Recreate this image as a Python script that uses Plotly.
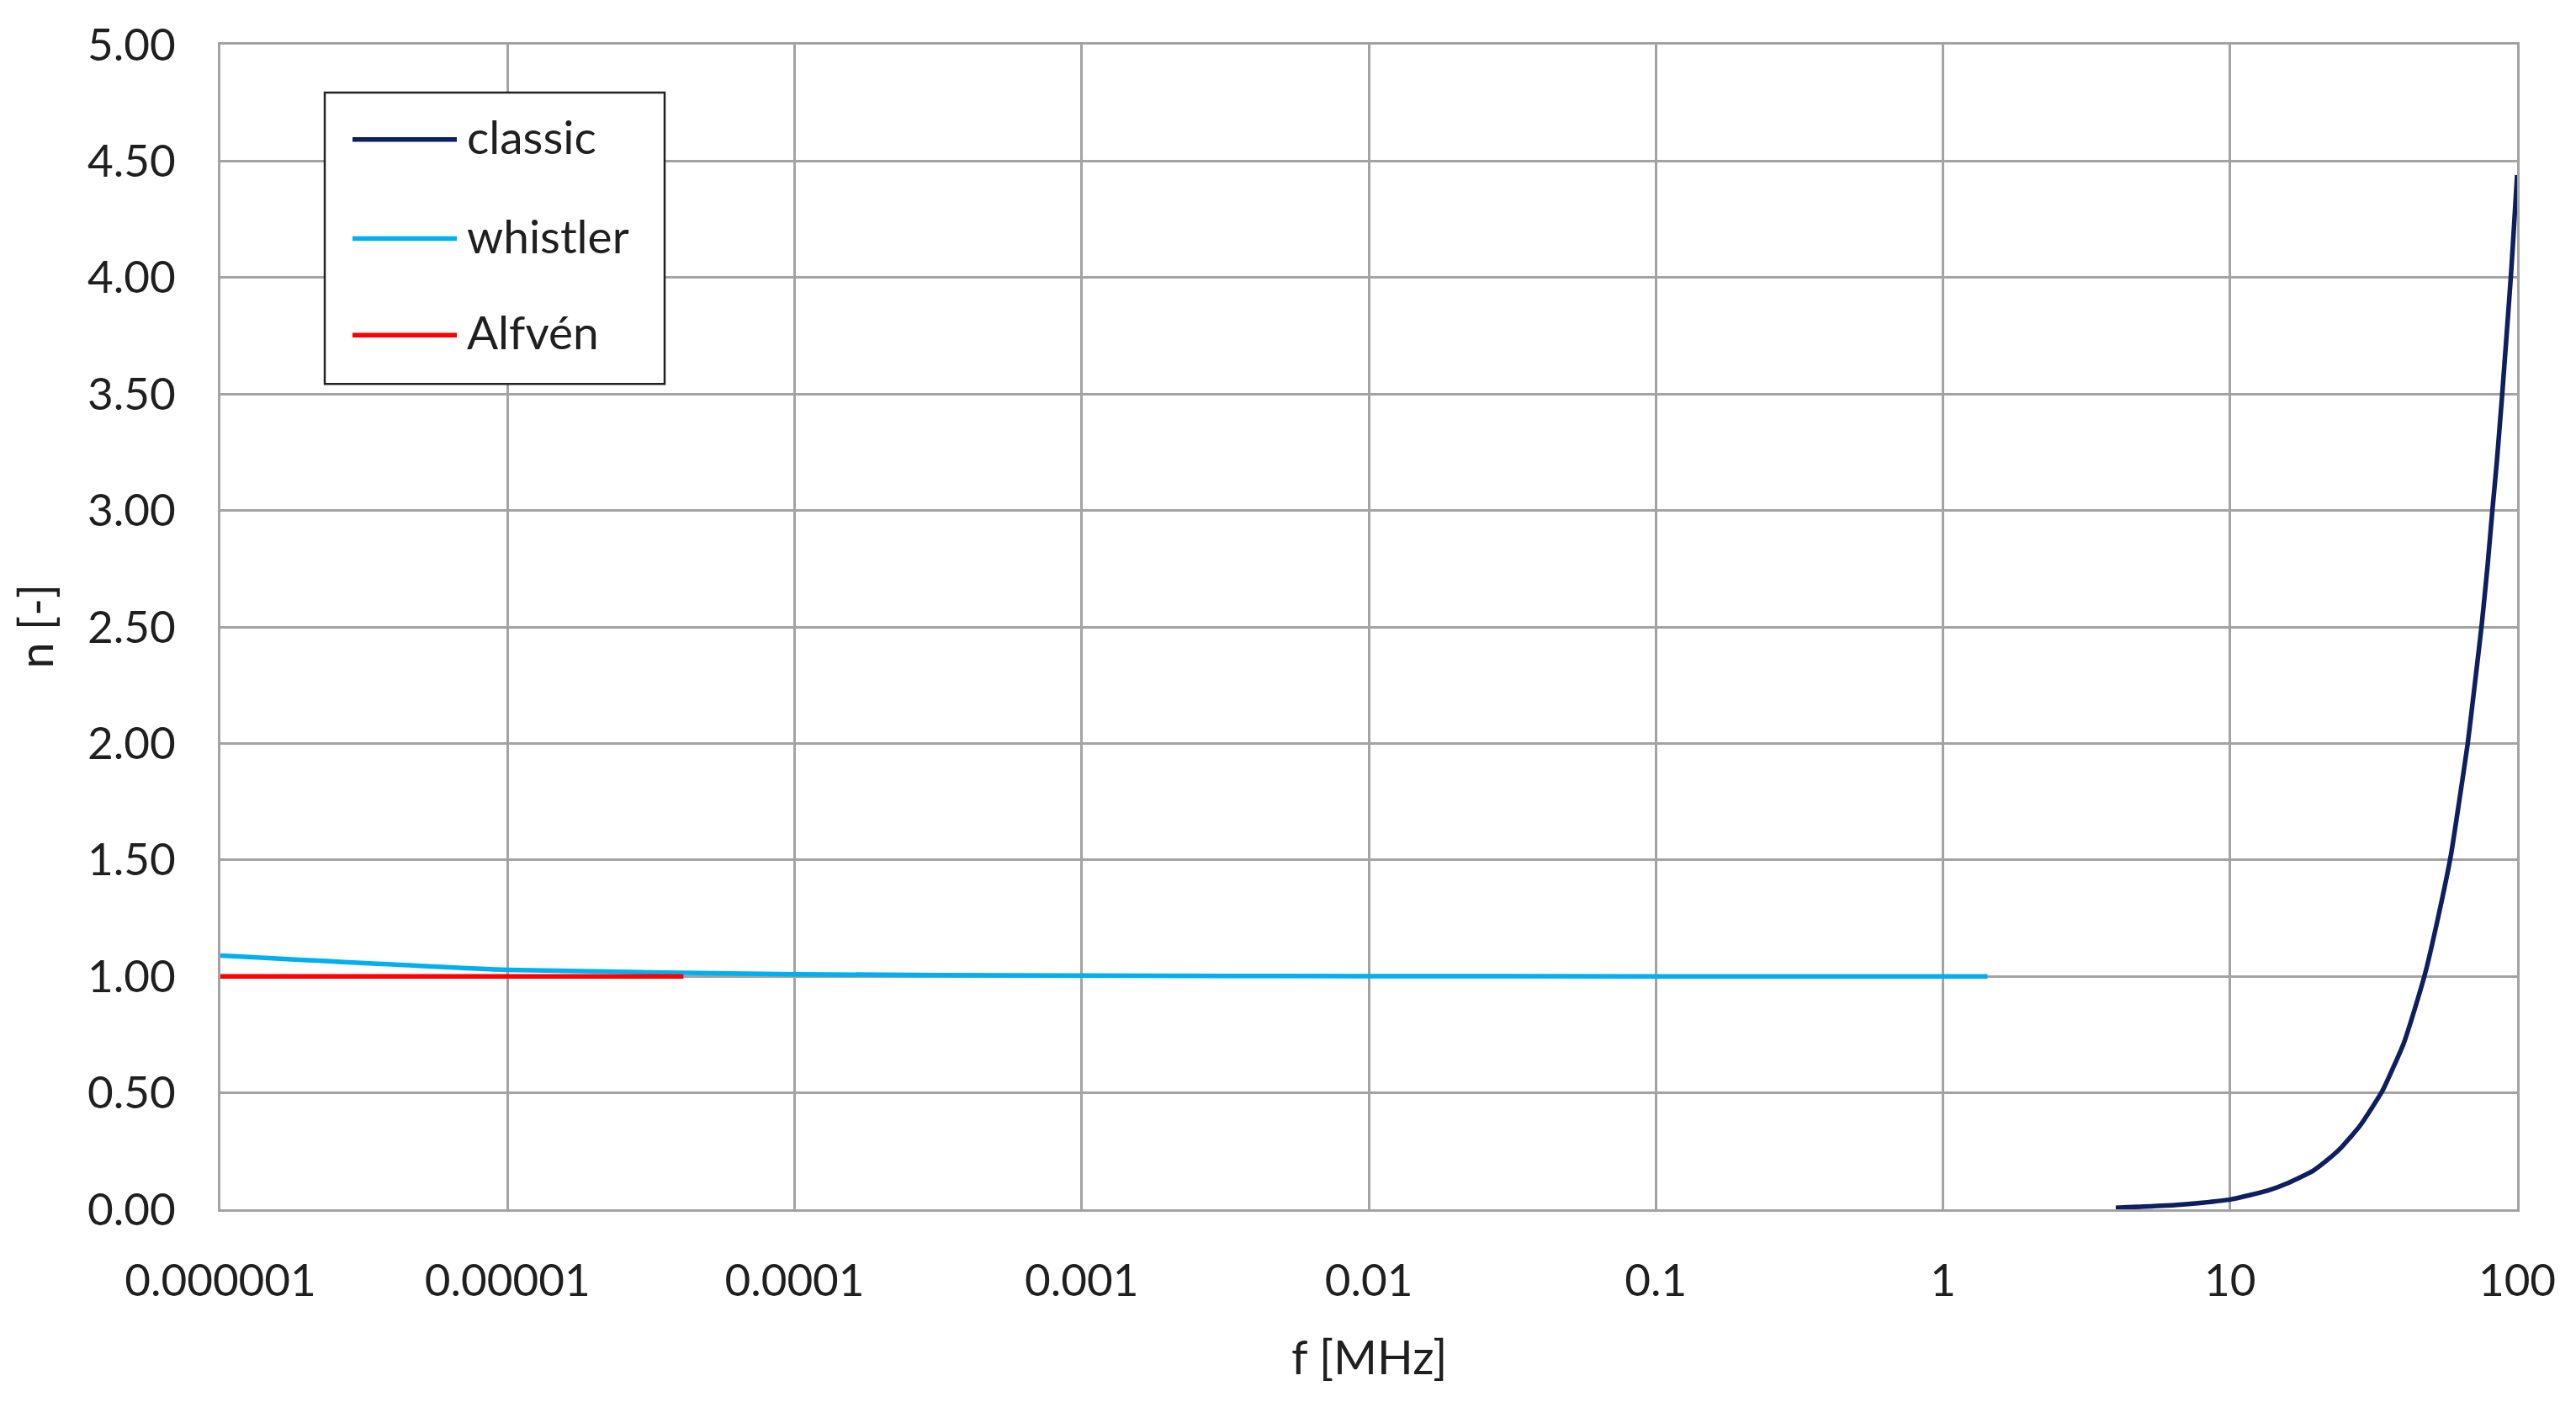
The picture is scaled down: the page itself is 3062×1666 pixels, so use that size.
import plotly.graph_objects as go

# values (f in MHz, n dimensionless)
classic_f = [4.0, 6.4, 8.0, 10.1, 13.5, 16.0, 19.5, 22.0, 24.4, 28.3, 31.0, 34.0, 40.2, 44.0, 48.0,
             53.0, 58.8, 63.0, 67.3, 71.0, 75.3, 79.0, 82.0, 85.0, 88.5, 92.0, 95.3, 98.0, 100.0]
classic_n = [0.006, 0.018, 0.028, 0.043, 0.080, 0.114, 0.166, 0.215, 0.265, 0.357, 0.43, 0.51, 0.71,
             0.86, 1.02, 1.25, 1.52, 1.76, 2.00, 2.24, 2.51, 2.77, 3.00, 3.21, 3.48, 3.76, 4.02, 4.26, 4.44]

whistler_f = [1e-6, 1e-5, 1e-4, 1e-3, 1e-2, 1e-1, 1.0, 1.43]
whistler_n = [1.089, 1.028, 1.009, 1.003, 1.001, 1.000, 1.000, 1.000]

alfven_f = [1e-6, 1e-5, 4.1e-5]
alfven_n = [1.0, 1.0, 1.0]

x_tickvals = [1e-6, 1e-5, 1e-4, 1e-3, 1e-2, 1e-1, 1, 10, 100]
x_ticktext = ["0.000001", "0.00001", "0.0001", "0.001", "0.01", "0.1", "1", "10", "100"]

series = [
    ("classic", classic_f, classic_n, "#0d1f5e"),
    ("whistler", whistler_f, whistler_n, "#00b0f0"),
    ("Alfvén", alfven_f, alfven_n, "#ff0000"),
]

# the page body adds an 8px offset, so the figure is laid out 8px up/left
OFF = 8
W, H = 3062 - 2 * OFF, 1666 - 2 * OFF
L, R, T, B = 262 - OFF, 2992 - OFF, 50 - OFF, 1437 - OFF
FONT = "Lato, Liberation Sans, Arial, sans-serif"
TXT = "#1f1f1f"
GRID = "#a3a3a3"

fig = go.Figure()
for name, fx, ny, col in series:
    fig.add_trace(go.Scatter(x=fx, y=ny, mode="lines", name=name,
                             line=dict(color=col, width=5.5, shape="spline", smoothing=0.5),
                             showlegend=False))


def px(x):
    return (x - OFF - L) / (R - L)


def py(y):
    return (B - (y - OFF)) / (B - T)


shapes = []
annotations = []

# legend box drawn by hand to match the long sample lines
shapes.append(dict(type="rect", xref="paper", yref="paper",
                   x0=px(386), x1=px(790), y0=py(454), y1=py(107),
                   line=dict(color="#222222", width=2.5), fillcolor="white", layer="above"))
for (name, _, _, col), ry in zip(series, [163, 281, 396]):
    shapes.append(dict(type="line", xref="paper", yref="paper",
                       x0=px(419), x1=px(543), y0=py(ry), y1=py(ry),
                       line=dict(color=col, width=5.5), layer="above"))
    annotations.append(dict(text=name, xref="paper", yref="paper", x=px(553), y=py(ry - 4),
                            xanchor="left", yanchor="middle", showarrow=False,
                            font=dict(family=FONT, size=55, color=TXT)))

# axis titles
annotations.append(dict(text="f [MHz]", xref="paper", yref="paper", x=px(1627), y=py(1612),
                        xanchor="center", yanchor="middle", showarrow=False,
                        font=dict(family=FONT, size=56, color=TXT)))
annotations.append(dict(text="n [-]", xref="paper", yref="paper", x=px(42), y=py(743),
                        xanchor="center", yanchor="middle", showarrow=False, textangle=-90,
                        font=dict(family=FONT, size=56, color=TXT)))

fig.update_layout(
    width=W, height=H,
    margin=dict(l=L, r=W - R, t=T, b=H - B),
    paper_bgcolor="white", plot_bgcolor="white",
    font=dict(family=FONT, size=53, color=TXT),
    shapes=shapes, annotations=annotations,
    xaxis=dict(type="log", range=[-6, 2], tickvals=x_tickvals, ticktext=x_ticktext,
               showgrid=True, gridcolor=GRID, gridwidth=2.5,
               showline=True, linecolor=GRID, linewidth=2.5, mirror=True,
               ticks="", ticklabelstandoff=37, zeroline=False),
    yaxis=dict(range=[0, 5], dtick=0.5, tickformat=".2f",
               showgrid=True, gridcolor=GRID, gridwidth=2.5,
               showline=True, linecolor=GRID, linewidth=2.5, mirror=True,
               ticks="", ticklabelstandoff=40, zeroline=False),
)

fig.write_html("out.html")
